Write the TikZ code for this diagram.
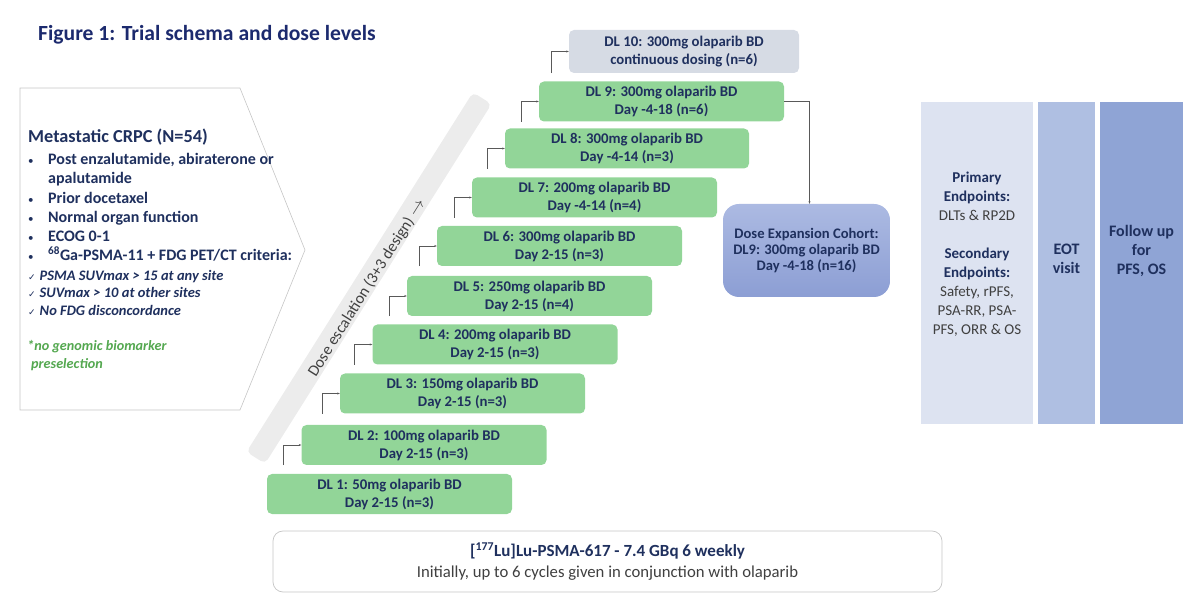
\documentclass[tikz,border=0pt]{standalone}
\usepackage{fontspec}
\setmainfont{Carlito}
\newfontfamily\dejavu{DejaVu Sans}
\usetikzlibrary{arrows.meta,calc}
\definecolor{navy}{RGB}{31,48,94}
\definecolor{titleblue}{RGB}{28,42,110}
\definecolor{dlgreen}{RGB}{146,213,152}
\definecolor{dlgray}{RGB}{214,219,228}
\definecolor{txtgray}{RGB}{64,64,64}
\definecolor{colA}{RGB}{221,227,241}
\definecolor{colB}{RGB}{175,191,226}
\definecolor{colC}{RGB}{143,164,213}
\definecolor{bargray}{RGB}{236,236,236}
\definecolor{greentxt}{RGB}{84,168,80}
\definecolor{expTop}{RGB}{172,186,226}
\definecolor{expBot}{RGB}{140,158,212}
\tikzset{
  dlbox/.style={rectangle, rounded corners=5pt, fill=dlgreen, minimum width=245pt, minimum height=40pt, align=center, font=\bfseries\fontsize{14.8}{18}\selectfont, text=navy, inner sep=0pt},
  conn/.style={draw=gray!70!black, line width=0.5pt, -{Stealth[length=2.5pt,width=2pt]}},
  lefttxt/.style={anchor=base west, inner sep=0pt, text=navy, font=\bfseries\fontsize{16}{19}\selectfont},
  bullettxt/.style={anchor=base west, inner sep=0pt, text=navy, font=\fontsize{11}{12}\selectfont},
  checktxt/.style={anchor=base west, inner sep=0pt, text=navy, font=\bfseries\itshape\fontsize{14.5}{17}\selectfont},
  colbox/.style={rectangle, inner sep=0pt, minimum height=322pt},
}
\begin{document}
\begin{tikzpicture}[x=1pt,y=-1pt]
\useasboundingbox (0,0) rectangle (1200,609);
% title
\node[anchor=base west, inner sep=0pt, text=titleblue, font=\bfseries\fontsize{21.6}{26}\selectfont] (title) at (38,41) {Figure 1: Trial schema and dose levels};
% left chevron
\draw[gray!45, line width=0.6pt, fill=white] (20,88) -- (240,88) -- (305,250) -- (240,410) -- (20,410) -- cycle;
\node[anchor=base west, inner sep=0pt, text=navy, font=\bfseries\fontsize{18.3}{22}\selectfont] (crpc) at (28,143) {Metastatic CRPC (N=54)};
\foreach \yy/\tt [count=\i] in {165/{Post enzalutamide, abiraterone or}, 204/{Prior docetaxel}, 223/{Normal organ function}, 242/{ECOG 0-1}}{
  \node[bullettxt] (b\i) at (28,\yy) {\textbullet};
  \node[lefttxt] (t\i) at (48,\yy) {\tt};
}
\node[lefttxt] (t1b) at (48,184) {apalutamide};
\node[bullettxt] (b5) at (28,261) {\textbullet};
\node[lefttxt] (t5) at (48,261) {\textsuperscript{68}Ga-PSMA-11 + FDG PET/CT criteria:};
\node[checktxt] (c1) at (28,281) {{\dejavu\mdseries\upshape\fontsize{9}{10}\selectfont ✓}\hspace{4pt}PSMA SUVmax > 15 at any site};
\node[checktxt] (c2) at (28,298) {{\dejavu\mdseries\upshape\fontsize{9}{10}\selectfont ✓}\hspace{4pt}SUVmax > 10 at other sites};
\node[checktxt] (c3) at (28,316) {{\dejavu\mdseries\upshape\fontsize{9}{10}\selectfont ✓}\hspace{4pt}No FDG disconcordance};
\node[anchor=base west, inner sep=0pt, text=greentxt, font=\bfseries\itshape\fontsize{14.2}{17}\selectfont] (g1) at (27,351) {*no genomic biomarker};
\node[anchor=base west, inner sep=0pt, text=greentxt, font=\bfseries\itshape\fontsize{14.2}{17}\selectfont] (g2) at (31,369) {preselection};
% escalation bar
\node[rectangle, rounded corners=5pt, fill=bargray, minimum width=425pt, minimum height=22pt, rotate=57.8, inner sep=0pt] (bar) at (369,278) {};
\node[rotate=57.8, text=txtgray, font=\fontsize{16}{18}\selectfont, inner sep=0pt] (bartxt) at (367,288) {Dose escalation (3+3 design) $\rightarrow$};
% DL boxes
\node[dlbox] (d1) at (389.5,494) {DL 1: 50mg olaparib BD\\Day 2-15 (n=3)};
\node[dlbox] (d2) at (424,445) {DL 2: 100mg olaparib BD\\Day 2-15 (n=3)};
\node[dlbox] (d3) at (462.5,393.5) {DL 3: 150mg olaparib BD\\Day 2-15 (n=3)};
\node[dlbox] (d4) at (495,344.5) {DL 4: 200mg olaparib BD\\Day 2-15 (n=3)};
\node[dlbox] (d5) at (529.5,296) {DL 5: 250mg olaparib BD\\Day 2-15 (n=4)};
\node[dlbox] (d6) at (559.5,246) {DL 6: 300mg olaparib BD\\Day 2-15 (n=3)};
\node[dlbox] (d7) at (594.5,197.5) {DL 7: 200mg olaparib BD\\Day -4-14 (n=4)};
\node[dlbox, minimum width=244pt] (d8) at (627,148.5) {DL 8: 300mg olaparib BD\\Day -4-14 (n=3)};
\node[dlbox] (d9) at (661.5,101.5) {DL 9: 300mg olaparib BD\\Day -4-18 (n=6)};
\node[dlbox, fill=dlgray, minimum width=230pt, minimum height=43pt] (d10) at (684,51.5) {DL 10: 300mg olaparib BD\\continuous dosing (n=6)};
% connectors between levels
\foreach \k in {2,...,10}{
  \draw[conn] ($(d\k.south west)+(-18,0)$) |- (d\k.west);
}
% expansion cohort
\node[rectangle, rounded corners=16pt, top color=expTop, bottom color=expBot, minimum width=167pt, minimum height=93pt, align=center, text=navy, font=\bfseries\fontsize{14.6}{16}\selectfont, inner sep=0pt] (exp) at (806.5,250.5) {Dose Expansion Cohort:\\DL9: 300mg olaparib BD\\Day -4-18 (n=16)};
\coordinate (expin) at ($(exp.north)+(3,0)$);
\draw[conn] (d9.east) -| (expin);
% right columns
\node[colbox, fill=colA, minimum width=112pt] (colA) at (977,263) {};
\node[colbox, fill=colB, minimum width=57pt] (colB) at (1066.5,263) {};
\node[colbox, fill=colC, minimum width=83pt] (colC) at (1141.5,263) {};
\node[align=center, text=txtgray, font=\fontsize{15}{19}\selectfont, inner sep=0pt] (endp) at (977,254) {\textcolor{navy}{\bfseries Primary}\\\textcolor{navy}{\bfseries Endpoints:}\\DLTs \& RP2D\\[19pt]\textcolor{navy}{\bfseries Secondary}\\\textcolor{navy}{\bfseries Endpoints:}\\Safety, rPFS,\\PSA-RR, PSA-\\PFS, ORR \& OS};
\node[align=center, text=navy, font=\bfseries\fontsize{16}{18.5}\selectfont, inner sep=0pt] (eot) at (1066.5,259) {EOT\\visit};
\node[align=center, text=navy, font=\bfseries\fontsize{16}{19}\selectfont, inner sep=0pt] (fu) at (1141.5,251) {Follow up\\for\\PFS, OS};
% bottom box
\node[rectangle, rounded corners=10pt, draw=gray!45, line width=0.7pt, fill=white, minimum width=669pt, minimum height=61pt, align=center, inner sep=0pt, font=\fontsize{16.7}{21}\selectfont, text=txtgray] (lu) at (607.5,561.5) {\textcolor{navy}{\bfseries\fontsize{17}{21}\selectfont [\textsuperscript{177}Lu]Lu-PSMA-617 - 7.4 GBq 6 weekly}\\Initially, up to 6 cycles given in conjunction with olaparib};
\end{tikzpicture}
\end{document}
